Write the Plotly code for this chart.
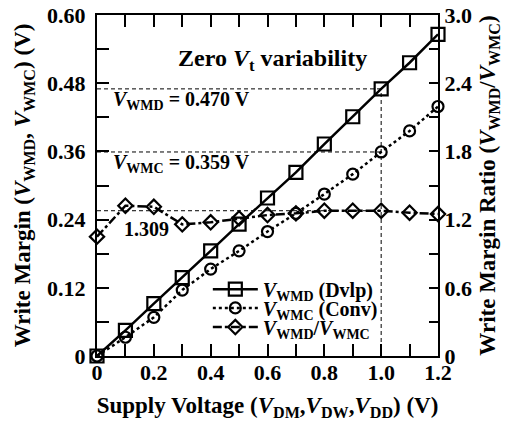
import plotly.graph_objects as go

supply_v = [0.0, 0.1, 0.2, 0.3, 0.4, 0.5, 0.6, 0.7, 0.8, 0.9, 1.0, 1.1, 1.2]
vwmd = [0.0, 0.045, 0.092, 0.138, 0.185, 0.232, 0.278, 0.323, 0.373, 0.421, 0.470, 0.516, 0.566]
vwmc = [0.0, 0.033, 0.068, 0.116, 0.153, 0.185, 0.219, 0.251, 0.285, 0.320, 0.359, 0.396, 0.439]
ratio = [1.05, 1.322, 1.313, 1.158, 1.176, 1.211, 1.240, 1.255, 1.278, 1.278, 1.278, 1.261, 1.249]

x_ticks = [0, 0.2, 0.4, 0.6, 0.8, 1.0, 1.2]
x_ticklabels = ["0", "0.2", "0.4", "0.6", "0.8", "1.0", "1.2"]
y_ticks = [0, 0.12, 0.24, 0.36, 0.48, 0.60]
y_ticklabels = ["0", "0.12", "0.24", "0.36", "0.48", "0.60"]
y2_ticks = [0, 0.6, 1.2, 1.8, 2.4, 3.0]
y2_ticklabels = ["0", "0.6", "1.2", "1.8", "2.4", "3.0"]

ref_x = 1.0
ref_vwmd = 0.470
ref_vwmc = 0.359
ref_ratio_label = "1.309"

FONT = "Liberation Serif"

def b(s):
    return "<b>" + s + "</b>"

fig = go.Figure()

fig.add_trace(go.Scatter(
    x=supply_v, y=vwmd, mode="lines+markers",
    name=b("<i>V</i><sub>WMD</sub> (Dvlp)"), legend="legend",
    line=dict(color="black", width=2.5, dash="solid"),
    marker=dict(symbol="square-open", size=13, color="black", line=dict(width=2.2)),
    cliponaxis=False,
))
fig.add_trace(go.Scatter(
    x=supply_v, y=vwmc, mode="lines+markers",
    name=b("<i>V</i><sub>WMC</sub> (Conv)"), legend="legend2",
    line=dict(color="black", width=2.5, dash="dot"),
    marker=dict(symbol="circle-open", size=11, color="black", line=dict(width=2.2)),
    cliponaxis=False,
))
fig.add_trace(go.Scatter(
    x=supply_v, y=ratio, mode="lines+markers", yaxis="y2",
    name=b("<i>V</i><sub>WMD</sub>/<i>V</i><sub>WMC</sub>"), legend="legend3",
    line=dict(color="black", width=2.5, dash="dashdot"),
    marker=dict(symbol="diamond-open", size=11, color="black", line=dict(width=2.2)),
    cliponaxis=False,
))

ref_ratio_val = ratio[supply_v.index(ref_x)]
ref_line = dict(color="black", width=1, dash="4px,3px")
fig.add_trace(go.Scatter(x=[0, ref_x], y=[ref_vwmd, ref_vwmd], mode="lines",
                         line=ref_line, showlegend=False, hoverinfo="skip"))
fig.add_trace(go.Scatter(x=[0, ref_x], y=[ref_vwmc, ref_vwmc], mode="lines",
                         line=ref_line, showlegend=False, hoverinfo="skip"))
fig.add_trace(go.Scatter(x=[ref_x, ref_x], y=[0, ref_vwmd], mode="lines",
                         line=ref_line, showlegend=False, hoverinfo="skip"))
fig.add_trace(go.Scatter(x=[0, ref_x], y=[ref_ratio_val, ref_ratio_val], mode="lines", yaxis="y2",
                         line=ref_line, showlegend=False, hoverinfo="skip"))

tickfont = dict(family=FONT, size=22, color="black")
titlefont = dict(family=FONT, size=23, color="black")
tick_style = dict(ticks="inside", tickwidth=1.5, tickcolor="black")

legend_style = dict(
    xanchor="left", yanchor="middle", x=0.325,
    bgcolor="rgba(255,255,255,0)", borderwidth=0,
    font=dict(family=FONT, size=20, color="black"),
    itemwidth=45, tracegroupgap=0,
)

fig.update_layout(
    width=512, height=421,
    margin=dict(l=97, r=74, t=15, b=65),
    paper_bgcolor="white", plot_bgcolor="white",
    font=dict(family=FONT, color="black"),
    xaxis=dict(
        range=[0, 1.2], tickvals=x_ticks, ticktext=[b(t) for t in x_ticklabels],
        ticklen=12, **tick_style,
        minor=dict(dtick=0.1, tick0=0, ticklen=12, **tick_style),
        showline=True, linewidth=2, linecolor="black", mirror="ticks",
        showgrid=False, zeroline=False, tickfont=tickfont, ticklabelstandoff=-4,
        automargin=False,
        title=dict(text=b("Supply Voltage (<i>V</i><sub>DM</sub>,<i>V</i><sub>DW</sub>,<i>V</i><sub>DD</sub>) (V)"),
                   font=titlefont, standoff=16),
    ),
    yaxis=dict(
        range=[0, 0.6], tickvals=y_ticks, ticktext=[b(t) for t in y_ticklabels],
        ticklen=12, **tick_style,
        minor=dict(dtick=0.06, tick0=0, ticklen=12, **tick_style),
        showline=True, linewidth=2, linecolor="black",
        showgrid=False, zeroline=False, tickfont=tickfont, ticklabelstandoff=5,
        automargin=False,
        title=dict(text=b("Write Margin (<i>V</i><sub>WMD</sub>, <i>V</i><sub>WMC</sub>) (V)"),
                   font=titlefont, standoff=10),
    ),
    yaxis2=dict(
        range=[0, 3.0], overlaying="y", side="right",
        tickvals=y2_ticks, ticktext=[b(t) for t in y2_ticklabels],
        ticklen=9, **tick_style,
        minor=dict(dtick=0.3, tick0=0, ticklen=9, **tick_style),
        showline=True, linewidth=2, linecolor="black",
        showgrid=False, zeroline=False, tickfont=tickfont, ticklabelstandoff=0,
        automargin=False,
        title=dict(text=b("Write Margin Ratio (<i>V</i><sub>WMD</sub>/<i>V</i><sub>WMC</sub>)"),
                   font=titlefont, standoff=8),
    ),
    legend=dict(y=0.196, **legend_style),
    legend2=dict(y=0.141, **legend_style),
    legend3=dict(y=0.085, **legend_style),
    showlegend=True,
)

ann_font = dict(family=FONT, size=20, color="black")
fig.add_annotation(x=0.616, y=0.521, xref="x", yref="y", showarrow=False,
                   text=b("Zero <i>V</i><sub>t</sub> variability"),
                   font=dict(family=FONT, size=24, color="black"))
fig.add_annotation(x=0.05, y=0.449, xref="x", yref="y", showarrow=False, xanchor="left",
                   text=b("<i>V</i><sub>WMD</sub> = 0.470 V"), font=ann_font)
fig.add_annotation(x=0.05, y=0.339, xref="x", yref="y", showarrow=False, xanchor="left",
                   text=b("<i>V</i><sub>WMC</sub> = 0.359 V"), font=ann_font)
fig.add_annotation(x=0.088, y=1.117, xref="x", yref="y2", showarrow=False, xanchor="left",
                   text=b(ref_ratio_label), font=ann_font)

fig.write_html("out.html")
